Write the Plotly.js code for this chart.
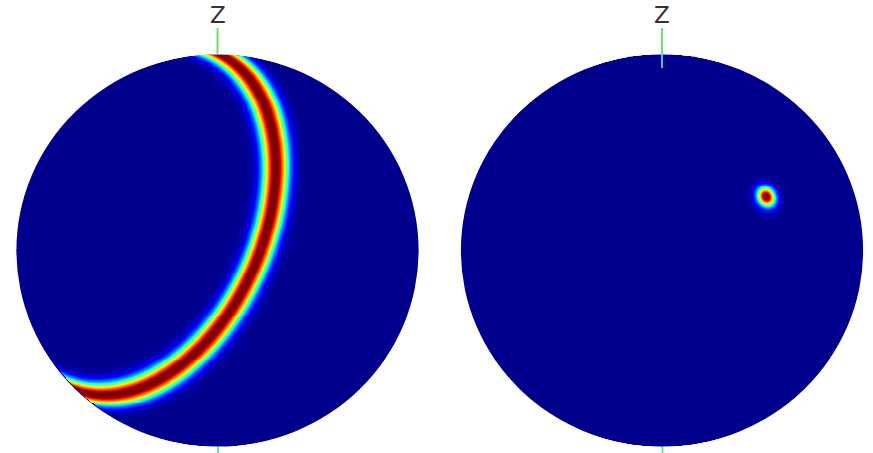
<!DOCTYPE html>
<html>
<head>
<meta charset="utf-8">
<script src="https://cdn.plot.ly/plotly-3.0.1.min.js"></script>
<style>html,body{margin:0;padding:0;background:#fff;}#chart{width:873px;height:453px;}</style>
</head>
<body>
<div id="chart"></div>
<script>
// ---- data (directions in view coordinates: u right, v up, w toward viewer) ----
const panelNames = ["ring", "peak"];
const axisLabels = ["Z", "Z"];
// left sphere: diffraction ring (cone around an axis)
const ringAxis = [-0.7715, 0.3196, 0.5503];
const ringCosHalfAngle = 0.308;
const ringWidth = 0.058;         // rad
const ringPeakValue = 1.05;
// right sphere: single spot
const peakDir = [0.6389, 0.3373, 0.6913];
const peakWidth = 0.044;         // rad
const spotPeakValue = 1.1;
// azimuthal perspective view of the front hemisphere (viewpoint distance, in radii)
const viewDistance = 3;

// ---- layout geometry (pixels) ----
const W = 873, H = 453;
const centersX = [217.5, 662];
const centerY = 250.5;
const radX = 200.5, radY = 195.5;
const N = 401;

const jet = [
  [0, 'rgb(0,0,140)'], [0.11, 'rgb(0,0,255)'], [0.125, 'rgb(0,0,255)'],
  [0.34, 'rgb(0,219,255)'], [0.35, 'rgb(0,230,247)'], [0.375, 'rgb(21,255,226)'],
  [0.64, 'rgb(238,255,8)'], [0.65, 'rgb(247,245,0)'], [0.66, 'rgb(255,236,0)'],
  [0.89, 'rgb(255,19,0)'], [0.91, 'rgb(232,0,0)'], [1, 'rgb(128,0,0)']
];

function norm(a){const l=Math.hypot(a[0],a[1],a[2]);return [a[0]/l,a[1]/l,a[2]/l];}

// screen radius r (0..1) -> polar angle theta, for r = D sin t / (D + cos t)
const D = viewDistance;
function thetaOf(r){
  let lo=0, hi=Math.PI/2;
  for(let k=0;k<40;k++){
    const m=(lo+hi)/2;
    if(D*Math.sin(m)/(D+Math.cos(m))<r) lo=m; else hi=m;
  }
  return (lo+hi)/2;
}
function toSphere(u,v){
  const r=Math.hypot(u,v);
  if(r<1e-9) return [0,0,1];
  const th=thetaOf(Math.min(1,r));
  const s=Math.sin(th)/r;
  return [u*s, v*s, Math.cos(th)];
}

function field(kind){
  const us=[], vs=[], z=[];
  for(let i=0;i<N;i++){ us.push(-1+2*i/(N-1)); }
  for(let j=0;j<N;j++){ vs.push(-1+2*j/(N-1)); }
  const n = norm(ringAxis), q = norm(peakDir);
  const alpha = Math.acos(ringCosHalfAngle);
  for(let j=0;j<N;j++){
    const row=[]; const v=vs[j];
    for(let i=0;i<N;i++){
      const u=us[i];
      if(u*u+v*v>1){row.push(null);continue;}
      const p=toSphere(u,v);
      let val;
      if(kind==="ring"){
        const c=Math.max(-1,Math.min(1,p[0]*n[0]+p[1]*n[1]+p[2]*n[2]));
        const a=Math.acos(c)-alpha;
        val=ringPeakValue*Math.exp(-a*a/(2*ringWidth*ringWidth));
      } else {
        const c=Math.max(-1,Math.min(1,p[0]*q[0]+p[1]*q[1]+p[2]*q[2]));
        const a=Math.acos(c);
        val=spotPeakValue*Math.exp(-a*a/(2*peakWidth*peakWidth));
      }
      row.push(Math.min(1,val));
    }
    z.push(row);
  }
  return {us, vs, z};
}

const traces=[]; const shapes=[]; const annotations=[];
panelNames.forEach((kind,k)=>{
  const f=field(kind);
  const cx=centersX[k];
  traces.push({
    type:'heatmap',
    x:f.us.map(u=>cx+radX*u),
    y:f.vs.map(v=>centerY-radY*v),
    z:f.z, zmin:0, zmax:1,
    colorscale:jet, showscale:false, hoverinfo:'skip', zsmooth:false
  });
  shapes.push({type:'circle', layer:'below', xref:'x', yref:'y',
    x0:cx-radX-0.6, x1:cx+radX+0.6, y0:centerY-radY-0.6, y1:centerY+radY+0.6,
    fillcolor:'rgb(0,0,140)', line:{width:0}});
  // z axis stubs
  shapes.push({type:'line', layer:'above', x0:cx, x1:cx, y0:28, y1:centerY-radY,
    line:{color:'rgb(110,225,110)', width:2}});
  if(kind==='peak'){
    shapes.push({type:'line', layer:'above', x0:cx, x1:cx, y0:centerY-radY, y1:68,
      line:{color:'rgb(70,200,200)', width:2}});
  }
  shapes.push({type:'line', layer:'below', x0:cx+0.5, x1:cx+0.5, y0:centerY+radY-2, y1:H,
    line:{color:'rgb(110,225,150)', width:2}});
  annotations.push({x:cx, y:15, xref:'x', yref:'y', text:axisLabels[k], showarrow:false,
    font:{family:'DejaVu Sans, sans-serif', size:23, color:'#333'}});
});

const layout={
  width:W, height:H, margin:{l:0,r:0,t:0,b:0},
  paper_bgcolor:'#fff', plot_bgcolor:'#fff',
  xaxis:{range:[0,W], visible:false, fixedrange:true},
  yaxis:{range:[H,0], visible:false, fixedrange:true},
  shapes, annotations, showlegend:false
};
Plotly.newPlot('chart', traces, layout, {staticPlot:true, displayModeBar:false});
</script>
</body>
</html>
